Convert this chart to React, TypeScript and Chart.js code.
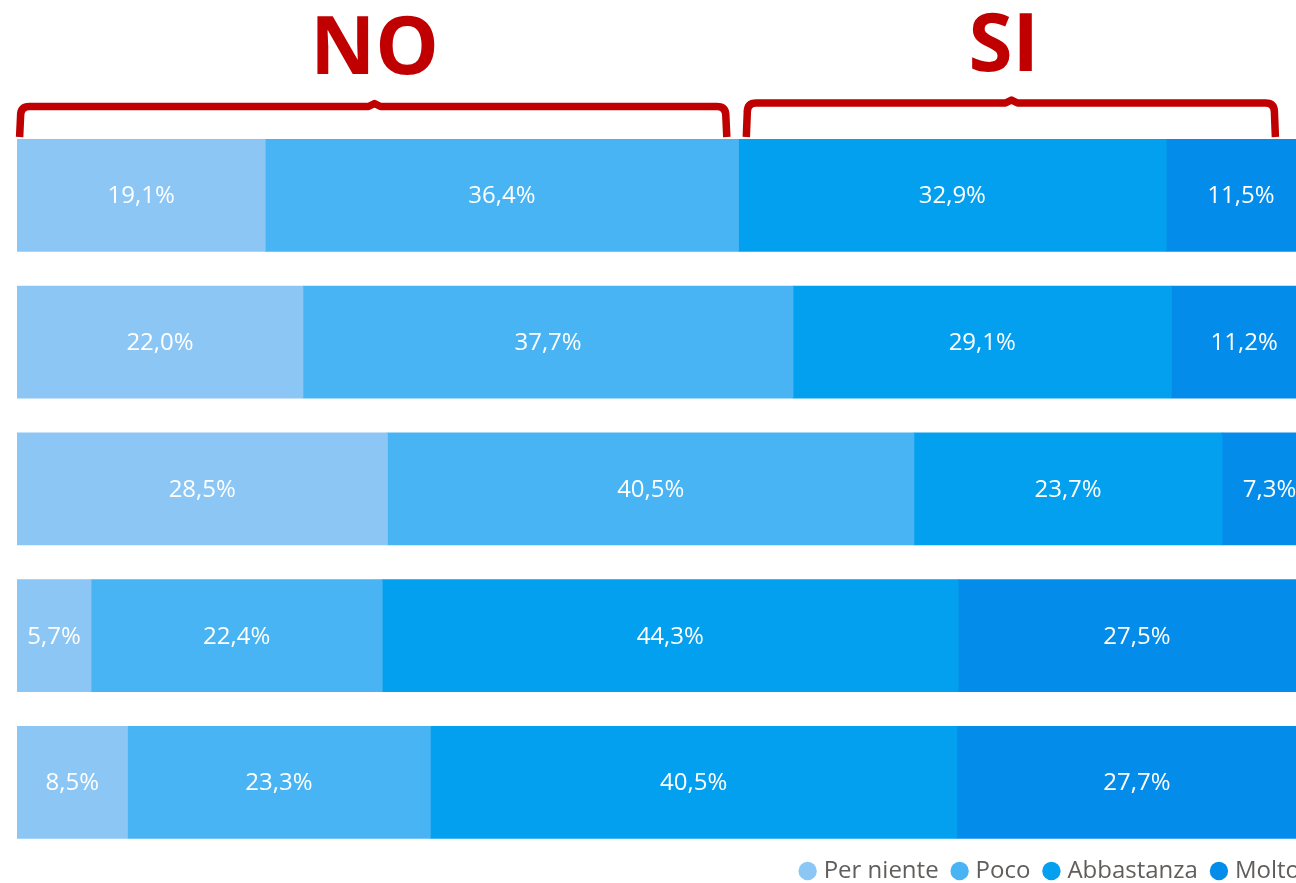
import React, { useEffect, useRef } from "react";
import { Chart, registerables } from "chart.js";

Chart.register(...registerables);

// ---- data ----
const categories = ["Domanda 1", "Domanda 2", "Domanda 3", "Domanda 4", "Domanda 5"];
const seriesNames = ["Per niente", "Poco", "Abbastanza", "Molto"];
const perNiente = [19.1, 22.0, 28.5, 5.7, 8.5];
const poco = [36.4, 37.7, 40.5, 22.4, 23.3];
const abbastanza = [32.9, 29.1, 23.7, 44.3, 40.5];
const molto = [11.5, 11.2, 7.3, 27.5, 27.7];
const seriesColors = ["#8BC6F5", "#48B4F3", "#03A0EF", "#048CEB"];

// group annotations (in % of the x axis)
const groupLabels = ["NO", "SI"];
const groupFrom = [0.2, 56.1];
const groupTo = [54.6, 96.8];
const groupTip = [27.5, 76.5];
const groupTextAt = [27.5, 75.9];

const fmt = (v: number) => v.toFixed(1).replace(".", ",") + "%";

const valueLabelPlugin = {
  id: "valueLabels",
  afterDatasetsDraw(chart: any) {
    const ctx = chart.ctx;
    ctx.save();
    ctx.fillStyle = "#FFFFFF";
    ctx.font = '24px "Open Sans"';
    ctx.textAlign = "center";
    ctx.textBaseline = "middle";
    chart.data.datasets.forEach((ds: any, i: number) => {
      const meta = chart.getDatasetMeta(i);
      meta.data.forEach((bar: any, j: number) => {
        const p = bar.getProps(["x", "y", "base"], true);
        const v = ds.data[j].x;
        ctx.fillText(fmt(v), (p.x + p.base) / 2, p.y + 1);
      });
    });
    ctx.restore();
  },
};

const bracketPlugin = {
  id: "brackets",
  afterDraw(chart: any) {
    const ctx = chart.ctx;
    const xs = chart.scales.x;
    const top = chart.chartArea.top;
    ctx.save();
    ctx.strokeStyle = "#C00000";
    ctx.fillStyle = "#C00000";
    ctx.lineWidth = 7.5;
    ctx.lineJoin = "round";
    groupLabels.forEach((lab, i) => {
      const x0 = xs.getPixelForValue(groupFrom[i]);
      const x1 = xs.getPixelForValue(groupTo[i]);
      const xm = xs.getPixelForValue(groupTip[i]);
      const yTop = top - (i === 0 ? 15.5 : 19);
      const yBot = top + 15;
      const r = 9;
      ctx.beginPath();
      ctx.moveTo(x0, yBot);
      ctx.lineTo(x0 + 1, yTop + r);
      ctx.quadraticCurveTo(x0 + 1, yTop, x0 + 1 + r, yTop);
      ctx.lineTo(xm - 6, yTop);
      ctx.lineTo(xm, yTop - 3);
      ctx.lineTo(xm + 6, yTop);
      ctx.lineTo(x1 - 1 - r, yTop);
      ctx.quadraticCurveTo(x1 - 1, yTop, x1 - 1, yTop + r);
      ctx.lineTo(x1, yBot);
      ctx.stroke();

      ctx.font = 'bold 80px "Open Sans"';
      ctx.textAlign = "center";
      ctx.textBaseline = "alphabetic";
      ctx.fillText(lab, xs.getPixelForValue(groupTextAt[i]), top - (i === 0 ? 48 : 51));
    });
    ctx.restore();
  },
};

export default function App() {
  const ref = useRef<HTMLCanvasElement | null>(null);

  useEffect(() => {
    if (!ref.current) return;
    const series = [perNiente, poco, abbastanza, molto];
    const chart = new Chart(ref.current, {
      type: "bar",
      data: {
        labels: categories,
        datasets: series.map((vals, k) => ({
          label: seriesNames[k],
          data: vals.map((v, i) => ({ x: v, y: i })),
          backgroundColor: seriesColors[k],
          borderWidth: 0,
          barThickness: 112,
        })),
      },
      options: {
        indexAxis: "y",
        responsive: false,
        animation: false,
        layout: { padding: { left: 17, top: 122, right: 0, bottom: 0 } },
        scales: {
          x: { type: "linear", stacked: true, min: 0, max: 100, display: false, offset: false },
          y: {
            type: "linear",
            stacked: true,
            reverse: true,
            min: -0.5,
            max: 4.406,
            display: false,
            offset: false,
            grid: { offset: false },
          },
        },
        plugins: {
          tooltip: { enabled: false },
          legend: {
            display: true,
            position: "bottom",
            align: "end",
            maxHeight: 41,
            labels: {
              usePointStyle: true,
              pointStyle: "circle",
              boxWidth: 8,
              boxHeight: 13,
              padding: 17,
              color: "#605E5C",
              font: { size: 24, family: '"Open Sans"' },
            },
          },
        },
      } as any,
      plugins: [valueLabelPlugin, bracketPlugin],
    });
    return () => chart.destroy();
  }, []);

  return (
    <div
      style={{
        position: "fixed",
        left: 0,
        top: 0,
        width: 1296,
        height: 883,
        overflow: "hidden",
        background: "#FFFFFF",
      }}
    >
      <canvas ref={ref} width={1317} height={883} style={{ display: "block" }} />
    </div>
  );
}
